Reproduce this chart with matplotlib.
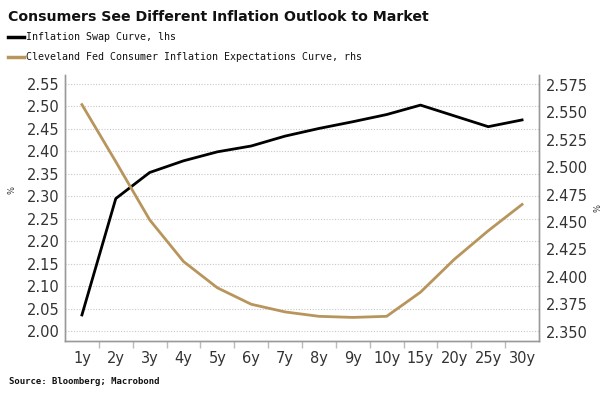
import matplotlib
matplotlib.use("Agg")
import matplotlib.pyplot as plt
from matplotlib.lines import Line2D
from matplotlib import font_manager

tenors = ["1y", "2y", "3y", "4y", "5y", "6y", "7y", "8y", "9y", "10y", "15y", "20y", "25y", "30y"]
swap_curve = [2.036, 2.295, 2.353, 2.379, 2.399, 2.412, 2.434, 2.451, 2.466, 2.482, 2.503, 2.479, 2.455, 2.470]
cleveland_curve = [2.557, 2.505, 2.452, 2.414, 2.390, 2.375, 2.368, 2.364, 2.363, 2.364, 2.386, 2.416, 2.442, 2.466]
left_ticks = [2.00, 2.05, 2.10, 2.15, 2.20, 2.25, 2.30, 2.35, 2.40, 2.45, 2.50, 2.55]
right_ticks = [2.350, 2.375, 2.400, 2.425, 2.450, 2.475, 2.500, 2.525, 2.550, 2.575]

BLACK = "#000000"
GOLD = "#b8955c"
SPINE = "#9a9a9a"

names = {f.name for f in font_manager.fontManager.ttflist}
if "Liberation Sans Narrow" in names:
    title_kw = dict(family="Liberation Sans Narrow", fontsize=13)
elif "DejaVu Sans Condensed" in names:
    title_kw = dict(family="DejaVu Sans", fontstretch="condensed", fontsize=11.5)
else:
    title_kw = dict(family="DejaVu Sans", fontsize=10.2)

W, H = 615, 399
fig = plt.figure(figsize=(W / 100, H / 100), dpi=100)
ax = fig.add_axes([65 / W, 1 - 341 / H, (539 - 65) / W, (341 - 75) / H])
ax2 = ax.twinx()

x = list(range(len(tenors)))
ax.plot(x, swap_curve, color=BLACK, lw=2.0, zorder=3)
ax2.plot(x, cleveland_curve, color=GOLD, lw=2.0, zorder=3)

ax.set_xlim(-0.5, len(tenors) - 0.5)
ax.set_ylim(1.978, 2.570)
ax2.set_ylim(2.3415, 2.584)

ax.set_yticks(left_ticks)
ax.set_yticklabels([f"{v:.2f}" for v in left_ticks])
ax2.set_yticks(right_ticks)
ax2.set_yticklabels([f"{v:.3f}" for v in right_ticks])

ax.set_xticks(x)
ax.set_xticklabels(tenors)
ax.set_xticks([i + 0.5 for i in range(len(tenors) - 1)], minor=True)

ax.grid(axis="y", color="#c8c8c8", linestyle=(0, (1, 1.5)), lw=0.8)
ax.set_axisbelow(True)

for a in (ax, ax2):
    a.spines["top"].set_visible(False)
    for s in ("left", "right", "bottom"):
        a.spines[s].set_color(SPINE)
        a.spines[s].set_linewidth(1.0)
    a.tick_params(axis="y", length=0, labelsize=10.5, colors="#333333")

ax.tick_params(axis="y", pad=4)
ax2.tick_params(axis="y", pad=5)
ax.tick_params(axis="x", which="major", length=0, labelsize=10.5, pad=7, colors="#333333")
ax.tick_params(axis="x", which="minor", length=5, width=1, color="#bbbbbb", direction="out")

fig.text(12 / W, 1 - 190 / H, "%", rotation=90, fontsize=6, color="#333333", ha="center", va="center")
fig.text(598 / W, 1 - 208 / H, "%", rotation=90, fontsize=6, color="#333333", ha="center", va="center")

fig.text(8 / W, 1 - 17 / H, "Consumers See Different Inflation Outlook to Market",
         fontweight="heavy", color="#111111", ha="left", va="center", **title_kw)

labels = ["Inflation Swap Curve, lhs", "Cleveland Fed Consumer Inflation Expectations Curve, rhs"]
leg_y = [37, 57]
for (lab, col, yy) in zip(labels, [BLACK, GOLD], leg_y):
    fig.add_artist(Line2D([8 / W, 24 / W], [1 - yy / H, 1 - yy / H], color=col, lw=2.5))
    fig.text(26 / W, 1 - yy / H, lab, fontsize=7.2, family="DejaVu Sans Mono",
             color="#111111", ha="left", va="center")

fig.text(9 / W, 1 - 381 / H, "Source: Bloomberg; Macrobond", fontsize=6.5,
         fontweight="bold", family="DejaVu Sans Mono", color="#111111", ha="left", va="center")

fig.savefig("out.png", dpi=100)
